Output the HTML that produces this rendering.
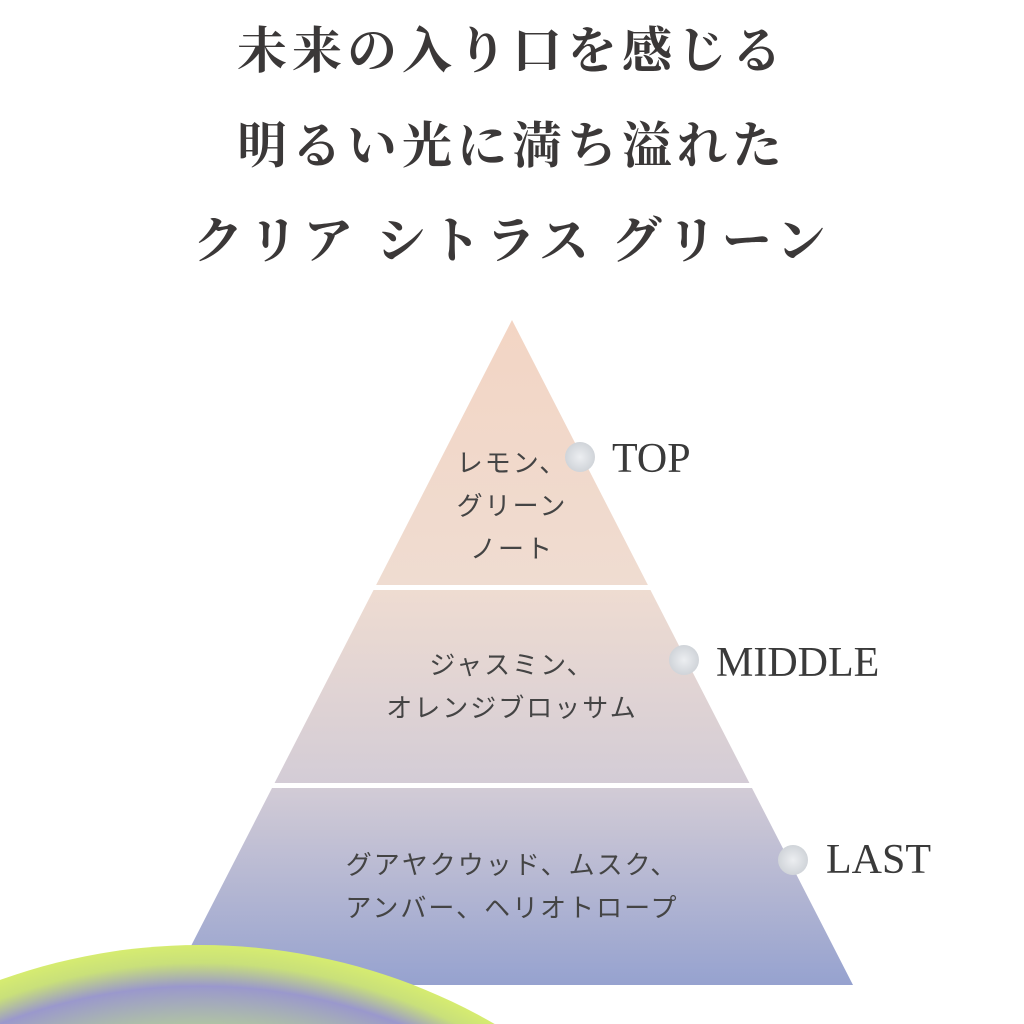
<!DOCTYPE html>
<html><head><meta charset="utf-8"><style>
html,body{margin:0;width:1024px;height:1024px;overflow:hidden;background:#fff}
body{position:relative}
.t{position:absolute;left:0;width:1024px;text-align:center;font-family:"Liberation Serif","Noto Serif CJK SC",serif;font-weight:bold;font-size:50px;color:#3b3838;letter-spacing:5px;line-height:60px}
.j{position:absolute;text-align:center;font-family:"Liberation Sans","Noto Sans CJK JP",sans-serif;font-size:26px;color:#444;line-height:43px;letter-spacing:2px}
.e{position:absolute;font-family:"Liberation Serif",serif;font-size:42px;color:#3a3a3a;line-height:50px}
</style></head><body>
<div class="t" style="top:21px">未来の入り口を感じる</div>
<div class="t" style="top:116px">明るい光に満ち溢れた</div>
<div class="t" style="top:211px">クリア シトラス グリーン</div>
<svg width="1024" height="1024" style="position:absolute;left:0;top:0;display:block">
<defs>
<linearGradient id="g" x1="0" y1="320" x2="0" y2="985" gradientUnits="userSpaceOnUse">
<stop offset="0" stop-color="#f3d5c4"/><stop offset="0.4" stop-color="#efdcd1"/>
<stop offset="0.7" stop-color="#d3ccd6"/><stop offset="1" stop-color="#96a2cf"/></linearGradient>
<radialGradient id="gl" cx="200" cy="1534" r="589" gradientUnits="userSpaceOnUse">
<stop offset="0.85" stop-color="#b5cc9c"/><stop offset="0.93" stop-color="#9a98cc"/><stop offset="0.97" stop-color="#c9e07a"/><stop offset="1" stop-color="#d6ec70"/></radialGradient>
<radialGradient id="d"><stop offset="0" stop-color="#eceef1"/><stop offset="1" stop-color="#d0d4d9"/></radialGradient>
</defs>
<polygon points="512,320 853,985 171,985" fill="url(#g)"/>
<rect x="150" y="585" width="750" height="5" fill="#fff"/>
<rect x="150" y="783" width="750" height="5" fill="#fff"/>
<circle cx="200" cy="1534" r="589" fill="url(#gl)"/>
<circle cx="580" cy="457" r="15" fill="url(#d)"/>
<circle cx="684" cy="660" r="15" fill="url(#d)"/>
<circle cx="793" cy="860" r="15" fill="url(#d)"/>
</svg>
<div class="j" style="left:412px;top:442px;width:200px">レモン、<br>グリーン<br>ノート</div>
<div class="j" style="left:262px;top:644px;width:500px">ジャスミン、<br>オレンジブロッサム</div>
<div class="j" style="left:212px;top:844px;width:600px">グアヤクウッド、ムスク、<br>アンバー、ヘリオトロープ</div>
<div class="e" style="left:612px;top:434px">TOP</div>
<div class="e" style="left:716px;top:638px">MIDDLE</div>
<div class="e" style="left:826px;top:835px">LAST</div>
</body></html>
